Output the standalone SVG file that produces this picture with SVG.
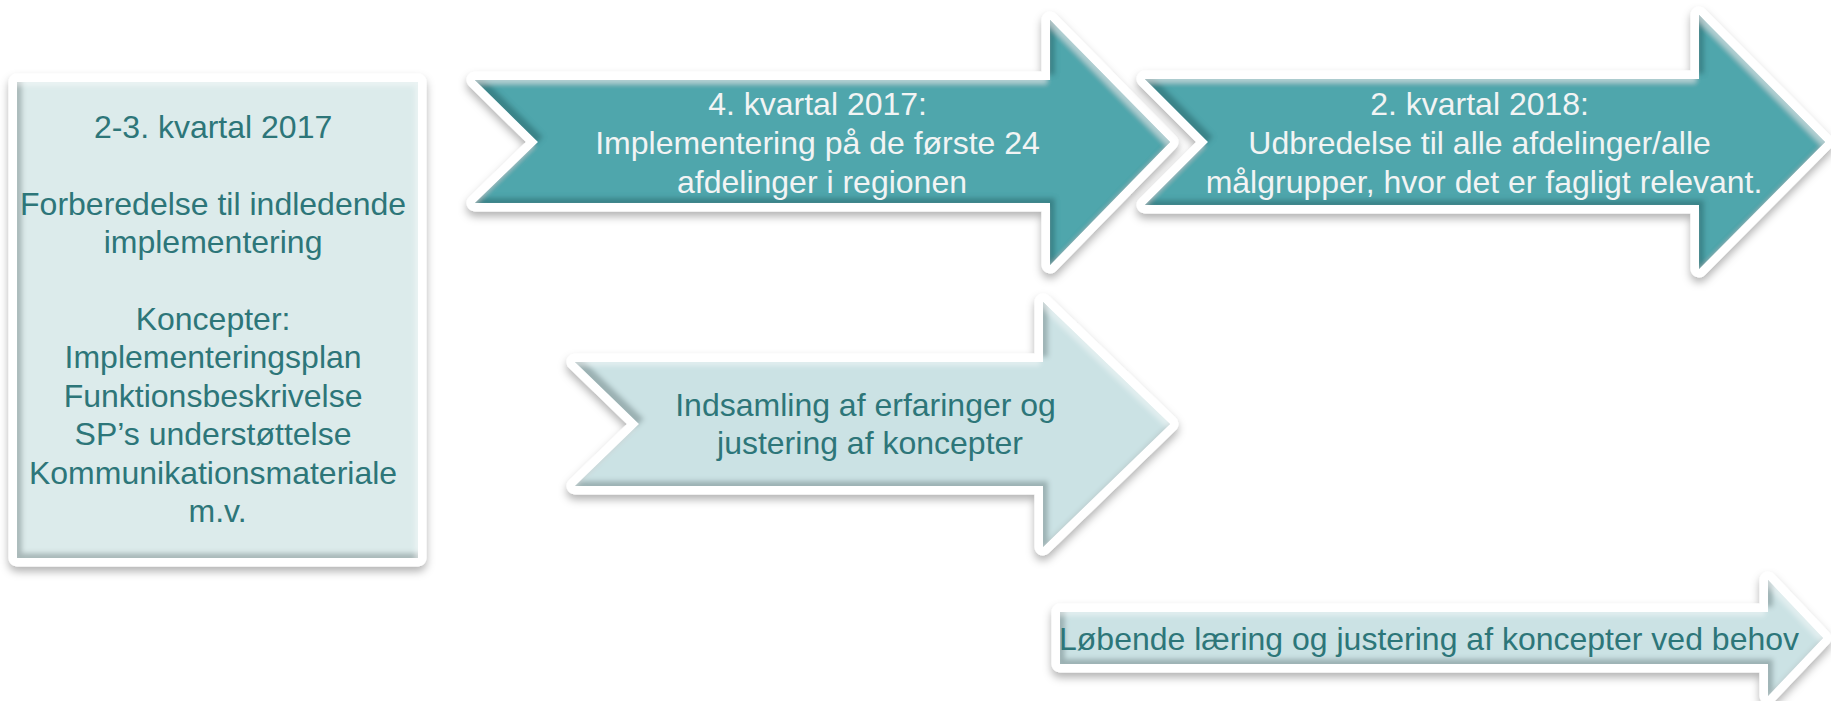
<svg xmlns="http://www.w3.org/2000/svg" width="1831" height="701" viewBox="0 0 1831 701">
  <defs>
    <style>
      text { font-family: "Liberation Sans", Arial, sans-serif; font-size: 32px; text-anchor: middle; }
      .frame { fill: #ffffff; stroke: #ffffff; stroke-width: 17; stroke-linejoin: round; filter: url(#shadow); }
      .dark { fill: #50a6ac; filter: url(#bevel); }
      .light { fill: #cbe2e4; filter: url(#bevel); }
      .pale { fill: #dcebeb; filter: url(#bevel); }
      .t-light { fill: #f2f4f4; }
      .t-dark { fill: #2d7679; }
    </style>
    <!-- soft drop shadow under the white outlines -->
    <filter id="shadow" x="-10%" y="-20%" width="120%" height="150%">
      <feGaussianBlur in="SourceAlpha" stdDeviation="4"/>
      <feOffset dy="5" result="o"/>
      <feFlood flood-color="#000000" flood-opacity="0.3"/>
      <feComposite in2="o" operator="in"/>
      <feMerge><feMergeNode/><feMergeNode in="SourceGraphic"/></feMerge>
    </filter>
    <!-- inner bevel: dark along left/bottom edges, light along top/right edges -->
    <filter id="bevel" x="-5%" y="-10%" width="110%" height="120%">
      <feGaussianBlur in="SourceAlpha" stdDeviation="2.5" result="blur"/>
      <feOffset in="blur" dx="5" dy="-5" result="sh1"/>
      <feComposite in="SourceAlpha" in2="sh1" operator="out" result="edge1"/>
      <feFlood flood-color="#0c3b3e" flood-opacity="0.45"/>
      <feComposite in2="edge1" operator="in" result="shade"/>
      <feOffset in="blur" dx="-3" dy="4" result="sh2"/>
      <feComposite in="SourceAlpha" in2="sh2" operator="out" result="edge2"/>
      <feFlood flood-color="#ffffff" flood-opacity="0.4"/>
      <feComposite in2="edge2" operator="in" result="shine"/>
      <feMerge><feMergeNode in="SourceGraphic"/><feMergeNode in="shade"/><feMergeNode in="shine"/></feMerge>
    </filter>
    <path id="p-box" d="M17,82 H418 V558 H17 Z"/>
    <path id="p-a1" d="M475,80 H1050 V20 L1170,142 L1050,265 V203 H475 L538,142 Z"/>
    <path id="p-a2" d="M1145,79 H1699 V15 L1825,142 L1699,269 V205 H1145 L1208,142 Z"/>
    <path id="p-a3" d="M575,362 H1043 V302 L1170,424 L1043,547 V486 H575 L639,424 Z"/>
    <path id="p-a4" d="M1060,612 H1768 V580 L1823,638 L1768,696 V664 H1060 Z"/>
  </defs>

  <rect width="1831" height="701" fill="#ffffff"/>

  <g id="connectors"/>

  <g id="prep-box">
    <use href="#p-box" class="frame"/>
    <use href="#p-box" class="pale"/>
    <text class="t-dark">
      <tspan x="217.5" y="138">2-3. kvartal 2017</tspan>
      <tspan x="217.5" y="214.8">Forberedelse til indledende</tspan>
      <tspan x="217.5" y="253.2">implementering</tspan>
      <tspan x="217.5" y="330">Koncepter:</tspan>
      <tspan x="217.5" y="368.4">Implementeringsplan</tspan>
      <tspan x="217.5" y="406.8">Funktionsbeskrivelse</tspan>
      <tspan x="217.5" y="445.2">SP’s understøttelse</tspan>
      <tspan x="217.5" y="483.6">Kommunikationsmateriale</tspan>
      <tspan x="217.5" y="522">m.v.</tspan>
    </text>
  </g>

  <g id="q4-2017">
    <use href="#p-a1" class="frame"/>
    <use href="#p-a1" class="dark"/>
    <text class="t-light">
      <tspan x="822" y="115">4. kvartal 2017:</tspan>
      <tspan x="822" y="154">Implementering på de første 24</tspan>
      <tspan x="822" y="193">afdelinger i regionen</tspan>
    </text>
  </g>

  <g id="q2-2018">
    <use href="#p-a2" class="frame"/>
    <use href="#p-a2" class="dark"/>
    <text class="t-light">
      <tspan x="1484" y="115">2. kvartal 2018:</tspan>
      <tspan x="1484" y="154">Udbredelse til alle afdelinger/alle</tspan>
      <tspan x="1484" y="193">målgrupper, hvor det er fagligt relevant.</tspan>
    </text>
  </g>

  <g id="feedback">
    <use href="#p-a3" class="frame"/>
    <use href="#p-a3" class="light"/>
    <text class="t-dark">
      <tspan x="870" y="416">Indsamling af erfaringer og</tspan>
      <tspan x="870" y="454">justering af koncepter</tspan>
    </text>
  </g>

  <g id="continuous">
    <use href="#p-a4" class="frame"/>
    <use href="#p-a4" class="light"/>
    <text class="t-dark" x="1429" y="650">Løbende læring og justering af koncepter ved behov</text>
  </g>
</svg>
